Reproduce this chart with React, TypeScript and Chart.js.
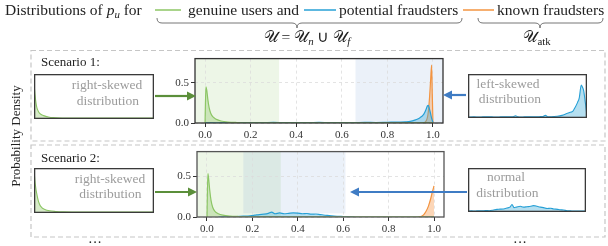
import React, { useEffect, useRef } from "react";
import { Chart, registerables } from "chart.js";
Chart.register(...registerables);

// ---------------- data ----------------
const xTickValues = [0, 0.2, 0.4, 0.6, 0.8, 1.0];
const yTickValues = [0, 0.5];

// Scenario 1 (main plot)
const s1GreenX = [0, 0.004, 0.008, 0.012, 0.018, 0.025, 0.035, 0.05, 0.07, 0.1, 0.14, 0.2, 0.3, 0.5, 0.7, 1.0];
const s1GreenY = [0.0, 0.45, 0.4, 0.3, 0.19, 0.12, 0.075, 0.045, 0.025, 0.012, 0.006, 0.003, 0.002, 0.001, 0.001, 0.001];
const s1BlueX = [0, 0.05, 0.1, 0.15, 0.2, 0.25, 0.3, 0.35, 0.4, 0.45, 0.5, 0.55, 0.6, 0.65, 0.7, 0.75, 0.8, 0.85, 0.88, 0.9, 0.92, 0.94, 0.95, 0.96, 0.97, 0.975, 0.98, 0.985, 0.99, 0.995, 1.0];
const s1BlueY = [0.004, 0.003, 0.005, 0.004, 0.006, 0.005, 0.007, 0.004, 0.006, 0.005, 0.007, 0.004, 0.006, 0.005, 0.008, 0.006, 0.009, 0.012, 0.015, 0.02, 0.035, 0.06, 0.08, 0.11, 0.17, 0.21, 0.22, 0.17, 0.11, 0.05, 0.01];
const s1OrangeX = [0.955, 0.965, 0.975, 0.98, 0.985, 0.99, 0.994, 0.997, 1.0];
const s1OrangeY = [0, 0.01, 0.06, 0.15, 0.32, 0.55, 0.72, 0.35, 0];

// Scenario 2 (main plot)
const s2GreenX = [0, 0.004, 0.008, 0.012, 0.018, 0.025, 0.035, 0.05, 0.07, 0.1, 0.14, 0.2, 0.3, 0.5, 0.7, 1.0];
const s2GreenY = [0.0, 0.53, 0.45, 0.33, 0.2, 0.12, 0.07, 0.04, 0.022, 0.011, 0.006, 0.003, 0.002, 0.001, 0.001, 0.001];
const s2BlueX = [0.05, 0.1, 0.13, 0.16, 0.19, 0.21, 0.23, 0.25, 0.27, 0.285, 0.3, 0.32, 0.34, 0.36, 0.38, 0.4, 0.42, 0.44, 0.46, 0.48, 0.5, 0.53, 0.56, 0.6, 0.65];
const s2BlueY = [0, 0.003, 0.006, 0.01, 0.015, 0.022, 0.03, 0.035, 0.045, 0.06, 0.04, 0.05, 0.04, 0.045, 0.05, 0.048, 0.04, 0.043, 0.035, 0.037, 0.03, 0.02, 0.012, 0.006, 0];
const s2OrangeX = [0.93, 0.945, 0.955, 0.965, 0.975, 0.985, 0.993, 1.0];
const s2OrangeY = [0, 0.01, 0.03, 0.07, 0.13, 0.22, 0.31, 0.38];

// shaded ranges [from, to, bottom]
const s1GreenRange = [-0.05, 0.325, 0];
const s1BlueRange = [0.66, 1.05, 0];
const s2GreenRange = [-0.05, 0.325, 0];
const s2BlueRange = [0.16, 0.61, 0.045];

// mini distributions (normalised 0..1)
const miniL1X = [0, 0.008, 0.018, 0.025, 0.04, 0.06, 0.08, 0.12, 0.16, 0.25, 0.4, 0.6, 0.8, 1.0];
const miniL1Y = [0.8, 0.55, 0.33, 0.24, 0.15, 0.1, 0.075, 0.045, 0.03, 0.022, 0.02, 0.02, 0.02, 0.02];
const miniL2X = [0, 0.01, 0.028, 0.045, 0.065, 0.09, 0.13, 0.18, 0.25, 0.4, 0.7, 1.0];
const miniL2Y = [0.96, 0.65, 0.36, 0.2, 0.12, 0.08, 0.05, 0.035, 0.025, 0.02, 0.02, 0.02];
const miniR1X = [0, 0.05, 0.1, 0.15, 0.2, 0.25, 0.3, 0.35, 0.38, 0.4, 0.42, 0.45, 0.5, 0.55, 0.6, 0.63, 0.65, 0.67, 0.7, 0.75, 0.79, 0.83, 0.86, 0.88, 0.9, 0.92, 0.935, 0.952, 0.962, 0.972, 0.986, 1.0];
const miniR1Y = [0.02, 0.025, 0.02, 0.03, 0.025, 0.02, 0.03, 0.025, 0.03, 0.05, 0.025, 0.02, 0.03, 0.025, 0.03, 0.035, 0.06, 0.03, 0.03, 0.04, 0.06, 0.1, 0.13, 0.15, 0.24, 0.35, 0.46, 0.75, 0.7, 0.62, 0.35, 0.05];
const miniR2X = [0, 0.03, 0.06, 0.09, 0.12, 0.15, 0.18, 0.21, 0.245, 0.27, 0.3, 0.33, 0.355, 0.373, 0.39, 0.41, 0.443, 0.47, 0.5, 0.53, 0.556, 0.585, 0.613, 0.64, 0.67, 0.7, 0.726, 0.76, 0.78, 0.81, 0.84, 0.87, 0.9, 0.95, 1.0];
const miniR2Y = [0.02, 0.025, 0.02, 0.03, 0.025, 0.035, 0.03, 0.04, 0.06, 0.065, 0.07, 0.09, 0.11, 0.17, 0.1, 0.11, 0.13, 0.11, 0.12, 0.13, 0.145, 0.13, 0.11, 0.1, 0.08, 0.085, 0.07, 0.06, 0.05, 0.045, 0.03, 0.025, 0.02, 0.02, 0.02];

// ---------------- styles ----------------
const GREEN_LINE = "#8cc665";
const GREEN_FILL = "rgba(140,198,101,0.35)";
const BLUE_LINE = "#27a0d6";
const BLUE_FILL = "rgba(60,170,215,0.38)";
const ORANGE_LINE = "#f39441";
const ORANGE_FILL = "rgba(248,165,95,0.45)";
const REGION_GREEN = "rgba(150,200,110,0.17)";
const REGION_BLUE = "rgba(130,165,220,0.16)";
const SERIF = '"Liberation Serif", "Times New Roman", serif';

const pts = (xs: number[], ys: number[]) => xs.map((x, i) => ({ x, y: ys[i] }));

const series = (xs: number[], ys: number[], line: string, fill: string, w = 1.2) => ({
  data: pts(xs, ys),
  borderColor: line,
  backgroundColor: fill,
  borderWidth: w,
  fill: "origin",
  pointRadius: 0,
  cubicInterpolationMode: "monotone",
});

const decorPlugin = {
  id: "decor",
  beforeDraw(chart: any, _a: any, opts: any) {
    const { ctx, chartArea: a, scales } = chart;
    const x = scales.x, y = scales.y;
    ctx.save();
    for (const r of opts.regions || []) {
      const px0 = Math.max(a.left, x.getPixelForValue(r.range[0]));
      const px1 = Math.min(a.right, x.getPixelForValue(r.range[1]));
      const pyb = Math.min(a.bottom, y.getPixelForValue(r.range[2]));
      ctx.fillStyle = r.color;
      ctx.fillRect(px0, a.top, px1 - px0, pyb - a.top);
    }
    ctx.restore();
  },
  afterDatasetsDraw(chart: any, _a: any, opts: any) {
    const { ctx, chartArea: a } = chart;
    ctx.save();
    ctx.strokeStyle = opts.frameColor || "#333";
    ctx.lineWidth = opts.frameWidth || 1.2;
    ctx.strokeRect(a.left, a.top, a.right - a.left, a.bottom - a.top);
    ctx.restore();
  },
};

function MainChart(props: {
  left: number; top: number; width: number; height: number;
  padTop: number; padRight: number; yAxisW: number; xAxisH: number;
  datasets: any[]; regions: any[]; frameColor: string;
}) {
  const ref = useRef<HTMLCanvasElement>(null);
  useEffect(() => {
    const chart = new Chart(ref.current as HTMLCanvasElement, {
      type: "line",
      data: { datasets: props.datasets },
      plugins: [decorPlugin],
      options: {
        responsive: false,
        animation: false,
        layout: { padding: { top: props.padTop, right: props.padRight, left: 0, bottom: 0 } },
        plugins: {
          legend: { display: false },
          tooltip: { enabled: false },
          decor: { regions: props.regions, frameColor: props.frameColor, frameWidth: 1.3 },
        } as any,
        scales: {
          x: {
            type: "linear",
            min: -0.044,
            max: 1.044,
            afterBuildTicks: (s: any) => { s.ticks = xTickValues.map((v) => ({ value: v })); },
            afterFit: (s: any) => { s.height = props.xAxisH; },
            ticks: {
              font: { family: SERIF, size: 11 },
              color: "#333",
              padding: 2,
              maxRotation: 0,
              callback: (v: any) => Number(v).toFixed(1),
            },
            grid: { color: "#dcdcdc", lineWidth: 0.8, tickLength: 4, tickColor: "#333", tickWidth: 1, tickBorderDash: [], borderDash: [3, 3] } as any,
            border: { display: false, dash: [3, 3] },
          },
          y: {
            type: "linear",
            min: 0,
            max: 0.8,
            afterBuildTicks: (s: any) => { s.ticks = yTickValues.map((v) => ({ value: v })); },
            afterFit: (s: any) => { s.width = props.yAxisW; },
            ticks: {
              font: { family: SERIF, size: 11 },
              color: "#333",
              padding: 2,
              callback: (v: any) => Number(v).toFixed(1),
            },
            grid: { color: "#dcdcdc", lineWidth: 0.8, tickLength: 4, tickColor: "#333", tickWidth: 1, tickBorderDash: [], borderDash: [3, 3] } as any,
            border: { display: false, dash: [3, 3] },
          },
        },
      },
    } as any);
    return () => chart.destroy();
  }, []);
  return (
    <canvas
      ref={ref}
      width={props.width}
      height={props.height}
      style={{ position: "absolute", left: props.left, top: props.top, width: props.width, height: props.height }}
    />
  );
}

const miniFrame = {
  id: "miniFrame",
  afterDraw(chart: any, _a: any, opts: any) {
    const { ctx, width, height } = chart;
    ctx.save();
    ctx.strokeStyle = opts.color || "#333";
    ctx.lineWidth = 1.3;
    ctx.strokeRect(0.65, 0.65, width - 1.3, height - 1.3);
    ctx.restore();
  },
};

function MiniChart(props: {
  left: number; top: number; width: number; height: number;
  xs: number[]; ys: number[]; line: string; fill: string;
}) {
  const ref = useRef<HTMLCanvasElement>(null);
  useEffect(() => {
    const chart = new Chart(ref.current as HTMLCanvasElement, {
      type: "line",
      data: { datasets: [series(props.xs, props.ys, props.line, props.fill, 1.1)] },
      plugins: [miniFrame],
      options: {
        responsive: false,
        animation: false,
        layout: { padding: 0 },
        plugins: { legend: { display: false }, tooltip: { enabled: false }, miniFrame: { color: "#3a3a3a" } } as any,
        scales: {
          x: { type: "linear", min: 0, max: 1, display: false },
          y: { type: "linear", min: 0, max: 1, display: false },
        },
      },
    } as any);
    return () => chart.destroy();
  }, []);
  return (
    <canvas
      ref={ref}
      width={props.width}
      height={props.height}
      style={{ position: "absolute", left: props.left, top: props.top, width: props.width, height: props.height }}
    />
  );
}

function Label(props: { x: number; cy: number; size: number; color?: string; anchor?: "start" | "middle"; children: any; style?: any }) {
  const { x, cy, size, color = "#222", anchor = "start" } = props;
  return (
    <div
      style={{
        position: "absolute",
        left: x,
        top: cy - 0.55 * size,
        fontSize: size,
        lineHeight: `${size}px`,
        color,
        whiteSpace: "nowrap",
        transform: anchor === "middle" ? "translateX(-50%)" : undefined,
        fontFamily: SERIF,
        ...(props.style || {}),
      }}
    >
      {props.children}
    </div>
  );
}

function brace(x1: number, x2: number, xm: number, y0: number, h: number) {
  const q = 5;
  const ym = y0 + h / 2;
  return `M ${x1} ${y0} Q ${x1} ${ym} ${x1 + q} ${ym} L ${xm - q} ${ym} Q ${xm} ${ym} ${xm} ${y0 + h} Q ${xm} ${ym} ${xm + q} ${ym} L ${x2 - q} ${ym} Q ${x2} ${ym} ${x2} ${y0}`;
}

function Arrow(props: { x1: number; x2: number; y: number; color: string }) {
  const { x1, x2, y, color } = props;
  const dir = x2 > x1 ? 1 : -1;
  const hl = 9, hw = 4.5;
  const bx = x2 - dir * hl;
  return (
    <g>
      <line x1={x1} y1={y} x2={bx} y2={y} stroke={color} strokeWidth={2.2} />
      <polygon points={`${x2},${y} ${bx},${y - hw} ${bx},${y + hw}`} fill={color} />
    </g>
  );
}

const SU = (sub: any) => (
  <span>
    <span style={{ fontFamily: '"DejaVu Serif", "DejaVu Sans", serif', fontStyle: "normal" }}>𝒰</span>
    {sub}
  </span>
);

export default function App() {
  useEffect(() => {
    document.body.style.margin = "0";
  }, []);

  const s1Datasets = [
    series(s1GreenX, s1GreenY, GREEN_LINE, GREEN_FILL),
    series(s1BlueX, s1BlueY, BLUE_LINE, BLUE_FILL),
    series(s1OrangeX, s1OrangeY, ORANGE_LINE, ORANGE_FILL),
  ];
  const s2Datasets = [
    series(s2GreenX, s2GreenY, GREEN_LINE, GREEN_FILL),
    series(s2BlueX, s2BlueY, BLUE_LINE, BLUE_FILL),
    series(s2OrangeX, s2OrangeY, ORANGE_LINE, ORANGE_FILL),
  ];

  const grayText = "#9c9c9c";

  return (
    <div style={{ position: "fixed", left: 0, top: 0, width: 608, height: 246, background: "#fff", overflow: "hidden", fontFamily: SERIF }}>
      {/* main charts */}
      <MainChart left={150} top={50} width={300} height={95} padTop={7} padRight={7} yAxisW={45} xAxisH={22}
        datasets={s1Datasets}
        regions={[{ range: s1GreenRange, color: REGION_GREEN }, { range: s1BlueRange, color: REGION_BLUE }]}
        frameColor="#333" />
      <MainChart left={152} top={143} width={300} height={95} padTop={7} padRight={8} yAxisW={45} xAxisH={21}
        datasets={s2Datasets}
        regions={[{ range: s2GreenRange, color: REGION_GREEN }, { range: s2BlueRange, color: REGION_BLUE }]}
        frameColor="#555" />

      {/* mini charts */}
      <MiniChart left={34} top={74} width={120} height={45} xs={miniL1X} ys={miniL1Y} line={GREEN_LINE} fill={GREEN_FILL} />
      <MiniChart left={34} top={168} width={120} height={45} xs={miniL2X} ys={miniL2Y} line={GREEN_LINE} fill={GREEN_FILL} />
      <MiniChart left={468} top={74} width={119} height={44} xs={miniR1X} ys={miniR1Y} line={BLUE_LINE} fill={BLUE_FILL} />
      <MiniChart left={468} top={168} width={118} height={44} xs={miniR2X} ys={miniR2Y} line={BLUE_LINE} fill={BLUE_FILL} />

      {/* decorations */}
      <svg width={608} height={246} style={{ position: "absolute", left: 0, top: 0, pointerEvents: "none" }}>
        <rect x={31} y={50.5} width={574} height={90.5} fill="none" stroke="#c6c6c6" strokeWidth={1.2} strokeDasharray="5 3" />
        <rect x={31} y={145} width={574} height={92} fill="none" stroke="#c6c6c6" strokeWidth={1.2} strokeDasharray="5 3" />
        <line x1={155} y1={10} x2={181} y2={10} stroke={GREEN_LINE} strokeWidth={1.5} />
        <line x1={304} y1={10} x2={336} y2={10} stroke={BLUE_LINE} strokeWidth={1.5} />
        <line x1={463} y1={10} x2={494} y2={10} stroke={ORANGE_LINE} strokeWidth={1.5} />
        <path d={brace(157, 462, 297, 18, 10)} fill="none" stroke="#666" strokeWidth={0.9} />
        <path d={brace(478, 603, 540, 18, 10)} fill="none" stroke="#666" strokeWidth={0.9} />
        <Arrow x1={155} x2={196} y={96} color="#5b8f3a" />
        <Arrow x1={155} x2={197} y={192} color="#5b8f3a" />
        <Arrow x1={466} x2={443} y={95} color="#3f7cc4" />
        <Arrow x1={467} x2={350} y={192} color="#3f7cc4" />
      </svg>

      {/* texts */}
      <Label x={5} cy={11} size={15.5}>
        Distributions of <i>p</i><sub style={{ fontSize: "0.7em", fontStyle: "italic", verticalAlign: "-0.25em", lineHeight: 0 }}>u</sub> for
      </Label>
      <Label x={188} cy={11} size={15.5}>genuine users and</Label>
      <Label x={339} cy={11} size={15.5}>potential fraudsters</Label>
      <Label x={497} cy={11} size={15.5}>known fraudsters</Label>

      <Label x={307} cy={38} size={15.5} anchor="middle">
        {SU(null)} = {SU(<sub style={{ fontSize: "0.7em", fontStyle: "italic", verticalAlign: "-0.3em", lineHeight: 0 }}>n</sub>)} ∪ {SU(<sub style={{ fontSize: "0.7em", fontStyle: "italic", verticalAlign: "-0.3em", lineHeight: 0 }}>f</sub>)}
      </Label>
      <Label x={537} cy={38} size={15.5} anchor="middle">
        {SU(<sub style={{ fontSize: "0.7em", verticalAlign: "-0.3em", lineHeight: 0 }}>atk</sub>)}
      </Label>

      <Label x={41} cy={62} size={13}>Scenario 1:</Label>
      <Label x={41} cy={158} size={13}>Scenario 2:</Label>

      <Label x={107} cy={85} size={13.5} color={grayText} anchor="middle">right-skewed</Label>
      <Label x={108} cy={101} size={13.5} color={grayText} anchor="middle">distribution</Label>
      <Label x={110} cy={179} size={13.5} color={grayText} anchor="middle">right-skewed</Label>
      <Label x={110.5} cy={194} size={13.5} color={grayText} anchor="middle">distribution</Label>
      <Label x={508} cy={84} size={13.5} color={grayText} anchor="middle">left-skewed</Label>
      <Label x={510} cy={99} size={13.5} color={grayText} anchor="middle">distribution</Label>
      <Label x={506} cy={177} size={13.5} color={grayText} anchor="middle">normal</Label>
      <Label x={507.5} cy={193} size={13.5} color={grayText} anchor="middle">distribution</Label>

      <div style={{ position: "absolute", left: 15, top: 136, transform: "translate(-50%, -50%) rotate(-90deg)", fontSize: 13, lineHeight: "13px", whiteSpace: "nowrap", color: "#222", fontFamily: SERIF }}>
        Probability Density
      </div>

      <Label x={95} cy={244} size={14} anchor="middle">···</Label>
      <Label x={520} cy={244} size={14} anchor="middle">···</Label>
    </div>
  );
}
